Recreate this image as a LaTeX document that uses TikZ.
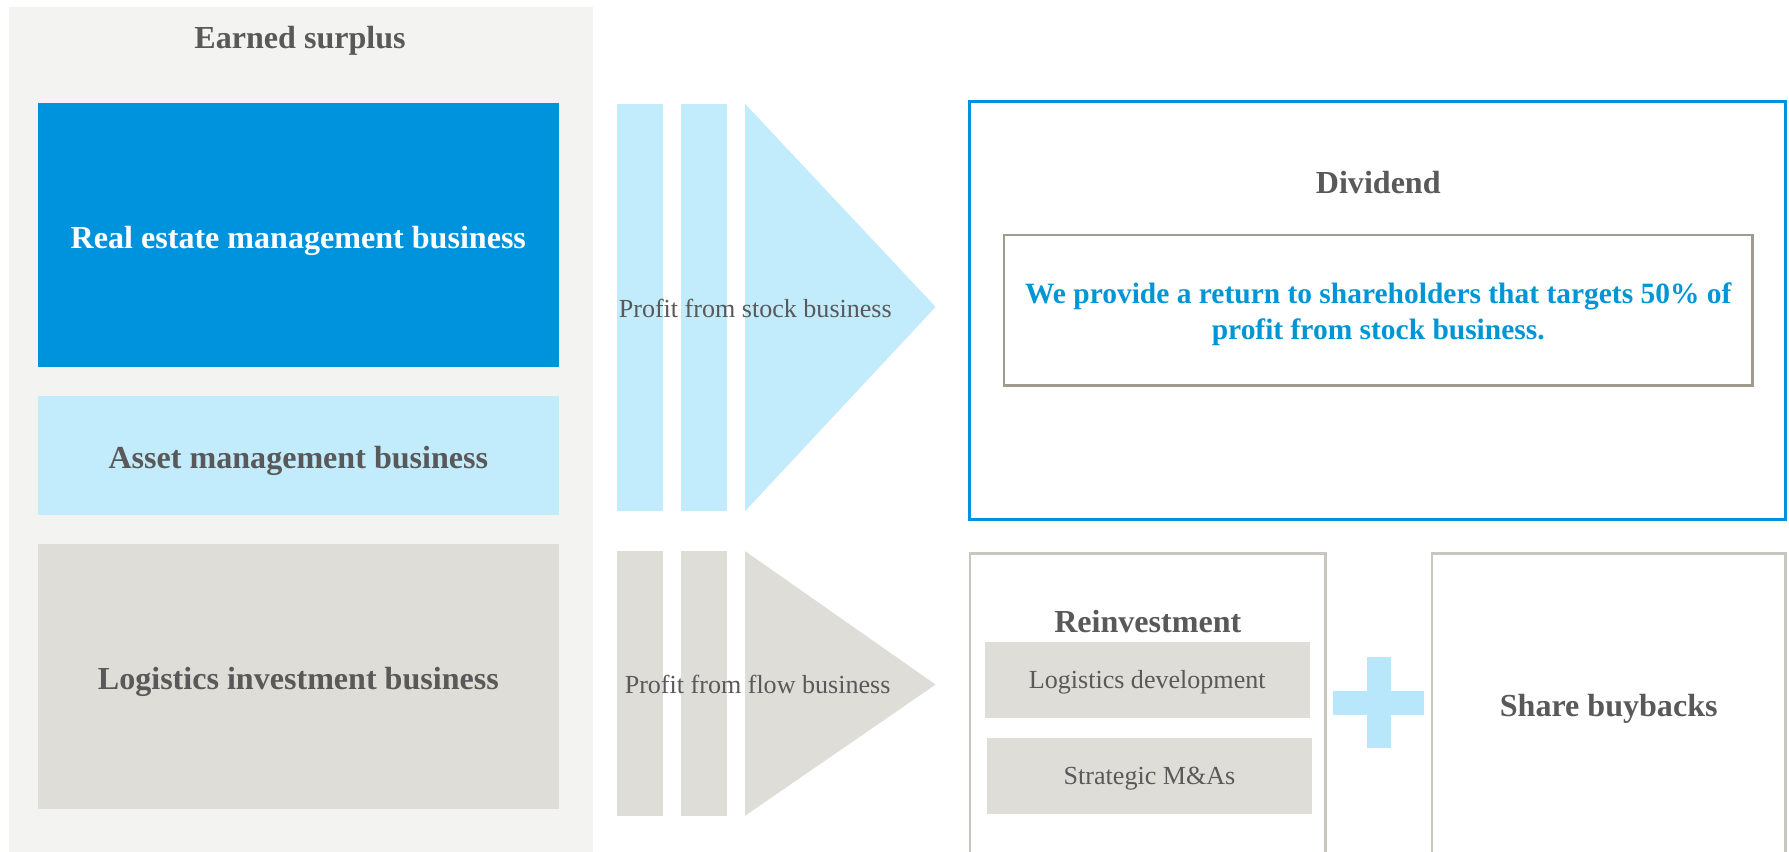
\documentclass[tikz,border=0pt]{standalone}
\usepackage{fontspec}
\setmainfont{Liberation Serif}
\usepackage{tikz}
\usetikzlibrary{fit,positioning}
\definecolor{surplusgray}{RGB}{243,243,241}
\definecolor{mainblue}{RGB}{0,147,221}
\definecolor{paleblue}{RGB}{194,235,251}
\definecolor{plusblue}{RGB}{184,230,250}
\definecolor{boxgray}{RGB}{222,221,216}
\definecolor{textgray}{RGB}{89,89,89}
\definecolor{framegray}{RGB}{201,198,191}
\definecolor{innergray}{RGB}{161,155,142}
\definecolor{quoteblue}{RGB}{0,150,214}

\begin{document}
\begin{tikzpicture}[x=0.02cm,y=-0.02cm,
    panel/.style={inner sep=0pt},
    head/.style={inner sep=0pt,text=textgray,font=\fontsize{16}{19}\selectfont\bfseries},
    small/.style={inner sep=0pt,text=textgray,font=\fontsize{13}{16}\selectfont},
    outline/.style={inner sep=0pt,draw=framegray,line width=1.3pt}]
    \clip (0,0) rectangle (1568,746.7);
    \fill[white] (0,0) rectangle (1568,746.7);
    % earned surplus column
    \node[panel,fit={(8,6) (520,760)},fill=surplusgray] (surplus) {};
    \node[head] (surplustitle) at (263,36) {Earned surplus};
    \node[panel,fit={(33,90) (490,322)},fill=mainblue] (realestate) {};
    \node[panel,fit={(33,347) (490,451)},fill=paleblue] (asset) {};
    \node[panel,fit={(33,477) (490,709)},fill=boxgray] (logistics) {};
    \node[head,text=white,yshift=-2.8pt] at (realestate.center) {Real estate management business};
    \node[head,yshift=-2.8pt] at (asset.center) {Asset management business};
    \node[head,yshift=-2.5pt] at (logistics.center) {Logistics investment business};
    % arrows
    \foreach \x in {541,597} {
        \fill[paleblue] (\x,91) rectangle (\x+40,448);
        \fill[boxgray] (\x,483) rectangle (\x+40,715);
    }
    \fill[paleblue] (653,91) -- (820,269) -- (653,448) -- cycle;
    \fill[boxgray] (653,483) -- (820,600) -- (653,715) -- cycle;
    \node[small] (stocklbl) at (662,270) {Profit from stock business};
    \node[small] (flowlbl) at (664,600) {Profit from flow business};
    % dividend
    \node[panel,fit={(850,89) (1565,455)},draw=mainblue,line width=1.6pt] (dividend) {};
    \node[head] (divtitle) at (1208,160) {Dividend};
    \node[panel,fit={(880,206) (1536,338)},draw=innergray,line width=1.3pt] (target) {};
    \node[align=center,inner sep=0pt,text=quoteblue,font=\fontsize{14.7}{18.2}\selectfont\bfseries] (targettext) at (1208,275.5)
        {We provide a return to shareholders that targets 50\% of\\profit from stock business.};
    % reinvestment and buybacks
    \node[outline,fit={(850,485) (1162,770)}] (reinvest) {};
    \node[head] (reinvtitle) at (1006,545) {Reinvestment};
    \node[panel,fit={(863,563) (1148,629)},fill=boxgray] (logdev) {};
    \node[panel,fit={(865,647) (1150,713)},fill=boxgray] (strategic) {};
    \node[small,yshift=-1.3pt] at (logdev.center) {Logistics development};
    \node[small,yshift=-1.5pt] at (strategic.center) {Strategic M\&As};
    \fill[plusblue] (1168,606) rectangle (1248,627);
    \fill[plusblue] (1198,576) rectangle (1219,656);
    \node[outline,fit={(1255,485) (1565,770)}] (buyback) {};
    \node[head] (buybacktext) at (1410,621) {Share buybacks};
\end{tikzpicture}
\end{document}
